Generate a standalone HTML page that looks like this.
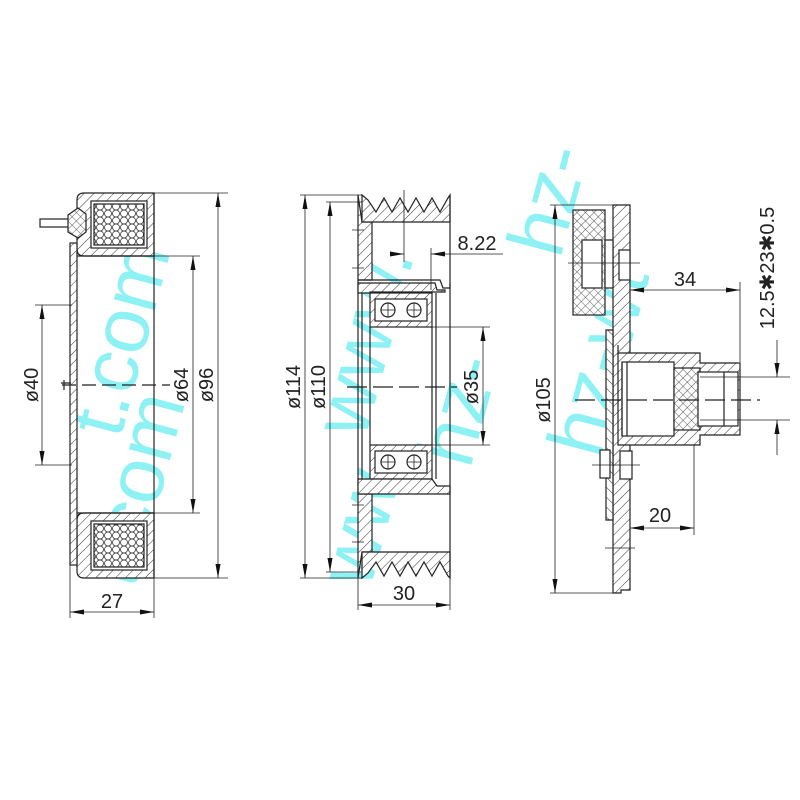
<!DOCTYPE html>
<html><head><meta charset="utf-8"><style>
html,body{margin:0;padding:0;background:#fff}
svg{display:block}
text{font-family:"Liberation Sans",sans-serif;fill:#222}
</style></head><body>
<svg width="800" height="800" viewBox="0 0 800 800" xmlns="http://www.w3.org/2000/svg">
<defs>
<pattern id="h" width="7" height="7" patternUnits="userSpaceOnUse" patternTransform="rotate(45)">
<rect width="7" height="7" fill="#fff"/><line x1="0" y1="0" x2="0" y2="7" stroke="#333" stroke-width="1"/></pattern>
<pattern id="h2" width="7" height="7" patternUnits="userSpaceOnUse" patternTransform="rotate(-45)">
<rect width="7" height="7" fill="#fff"/><line x1="0" y1="0" x2="0" y2="7" stroke="#333" stroke-width="1"/></pattern>
<pattern id="hex" width="8" height="7" patternUnits="userSpaceOnUse">
<rect width="8" height="7" fill="#fff"/><circle cx="4" cy="3.5" r="3.5" fill="none" stroke="#333" stroke-width="0.8"/></pattern>
<pattern id="x" width="6" height="6" patternUnits="userSpaceOnUse" patternTransform="rotate(45)">
<rect width="6" height="6" fill="#fff"/><path d="M0 0V6M0 0H6" stroke="#333" stroke-width="0.8"/></pattern>
<marker id="a" viewBox="0 0 10 10" refX="10" refY="5" markerWidth="14" markerHeight="14" markerUnits="userSpaceOnUse" orient="auto-start-reverse"><path d="M0 3.2L10 5L0 6.8z" fill="#111"/></marker>
</defs>

<!-- watermark -->
<g font-family="Liberation Sans" font-size="80">
<text transform="translate(120,440) rotate(-75)" style="fill:#8ef1f3">t.com</text>
<text transform="translate(135,590) rotate(-75)" style="fill:#8ef1f3">t.com</text>
<text transform="translate(365,440) rotate(-75)" style="fill:#8ef1f3">www.</text>
<text transform="translate(370,590) rotate(-75)" style="fill:#8ef1f3">ww</text>
<text transform="translate(560,260) rotate(-75)" style="fill:#8ef1f3">hz-</text>
<text transform="translate(600,460) rotate(-75)" style="fill:#8ef1f3">hz-wt</text>
<text transform="translate(470,470) rotate(-75)" style="fill:#8ef1f3">hz-</text>
</g>

<g stroke="#222" stroke-width="1.2" fill="none">
<!-- PART 1 -->
<path d="M84 193H154V256H84Q77 256 77 249V200Q77 193 84 193Z" fill="url(#h)"/>
<rect x="91" y="201" width="56" height="47" fill="#fff"/>
<rect x="94" y="204" width="50" height="41" fill="url(#hex)"/>
<path d="M84 578H154V513H84Q77 513 77 520V571Q77 578 84 578Z" fill="url(#h)"/>
<rect x="91" y="521" width="56" height="49" fill="#fff"/>
<rect x="94" y="524" width="50" height="43" fill="url(#hex)"/>
<rect x="70" y="243" width="7" height="322" fill="url(#h)"/>
<line x1="77" y1="256" x2="154" y2="256"/><line x1="77" y1="513" x2="154" y2="513"/>
<line x1="154" y1="193" x2="154" y2="578"/>
<rect x="40" y="219" width="30" height="8" fill="#fff"/>
<path d="M68 215L78 208L86 214V232L78 238L68 232Z" fill="url(#x)"/>
<path d="M62 385H170" stroke-dasharray="14 6"/>
<path d="M64 380V390M61 383h10" />
<!-- dims part1 -->
<line x1="35" y1="305" x2="72" y2="305" stroke-width="0.8"/><line x1="35" y1="465" x2="72" y2="465" stroke-width="0.8"/>
<line x1="42" y1="305" x2="42" y2="465" marker-start="url(#a)" marker-end="url(#a)" stroke-width="0.8"/>
<line x1="154" y1="256" x2="200" y2="256" stroke-width="0.8"/><line x1="154" y1="513" x2="200" y2="513" stroke-width="0.8"/>
<line x1="193" y1="256" x2="193" y2="513" marker-start="url(#a)" marker-end="url(#a)" stroke-width="0.8"/>
<line x1="154" y1="193" x2="228" y2="193" stroke-width="0.8"/><line x1="154" y1="578" x2="228" y2="578" stroke-width="0.8"/>
<line x1="218" y1="193" x2="218" y2="578" marker-start="url(#a)" marker-end="url(#a)" stroke-width="0.8"/>
<line x1="70" y1="565" x2="70" y2="618" stroke-width="0.8"/><line x1="154" y1="578" x2="154" y2="618" stroke-width="0.8"/>
<line x1="70" y1="612" x2="154" y2="612" marker-start="url(#a)" marker-end="url(#a)" stroke-width="0.8"/>

<!-- PART 2 -->
<path d="M358 195L362 222H372V280H358Z" fill="url(#h)"/>
<path d="M362 195L368 200L376 212L384 198L392 212L400 198L408 212L416 198L424 212L432 198L440 212L448 198L450 195V222H362Z" fill="url(#h)"/>
<path d="M358 578L362 552H372V494H358Z" fill="url(#h)"/>
<path d="M362 578L368 573L376 562L384 576L392 562L400 576L408 562L416 576L424 562L432 576L440 562L448 576L450 578V552H362Z" fill="url(#h)"/>
<path d="M358 280V494" />
<path d="M358 280H440L443 288H450V283" fill="none"/>
<path d="M358 283H435L437 290H445V292H370V293H358Z" fill="url(#h)"/>
<rect x="370" y="293" width="62" height="34" fill="url(#h)"/>
<rect x="375" y="299" width="52" height="22" fill="#fff"/>
<circle cx="388" cy="310" r="7" fill="#fff"/><circle cx="414" cy="310" r="7" fill="#fff"/>
<path d="M381 310h14M388 303v14M407 310h14M414 303v14" stroke-width="0.8"/>
<rect x="370" y="445" width="62" height="34" fill="url(#h)"/>
<rect x="375" y="451" width="52" height="22" fill="#fff"/>
<circle cx="388" cy="462" r="7" fill="#fff"/><circle cx="414" cy="462" r="7" fill="#fff"/>
<path d="M381 462h14M388 455v14M407 462h14M414 455v14" stroke-width="0.8"/>
<path d="M358 479H432L437 486H450V494H358Z" fill="url(#h)"/>
<line x1="370" y1="327" x2="370" y2="445"/><line x1="432" y1="327" x2="432" y2="445"/>
<line x1="362" y1="293" x2="362" y2="479"/><line x1="436" y1="293" x2="436" y2="479"/>
<line x1="450" y1="195" x2="450" y2="578"/>
<path d="M347 387H457" stroke-dasharray="20 6"/>
<path d="M352 230h12M352 268h12M352 505h12M352 542h12" stroke-width="0.8"/>
<!-- dims part2 -->
<line x1="300" y1="195" x2="362" y2="195" stroke-width="0.8"/><line x1="300" y1="578" x2="362" y2="578" stroke-width="0.8"/>
<line x1="305" y1="195" x2="305" y2="578" marker-start="url(#a)" marker-end="url(#a)" stroke-width="0.8"/>
<line x1="326" y1="202" x2="362" y2="202" stroke-width="0.8"/><line x1="326" y1="572" x2="362" y2="572" stroke-width="0.8"/>
<line x1="330" y1="202" x2="330" y2="572" marker-start="url(#a)" marker-end="url(#a)" stroke-width="0.8"/>
<line x1="432" y1="327" x2="490" y2="327" stroke-width="0.8"/><line x1="432" y1="445" x2="490" y2="445" stroke-width="0.8"/>
<line x1="483" y1="327" x2="483" y2="445" marker-start="url(#a)" marker-end="url(#a)" stroke-width="0.8"/>
<line x1="404" y1="190" x2="404" y2="262" stroke-width="0.8"/><line x1="431" y1="248" x2="431" y2="290" stroke-width="0.8"/>
<line x1="390" y1="254" x2="404" y2="254" marker-end="url(#a)" stroke-width="0.8"/>
<line x1="503" y1="254" x2="431" y2="254" marker-end="url(#a)" stroke-width="0.8"/>
<line x1="358" y1="578" x2="358" y2="610" stroke-width="0.8"/><line x1="450" y1="578" x2="450" y2="610" stroke-width="0.8"/>
<line x1="358" y1="605" x2="450" y2="605" marker-start="url(#a)" marker-end="url(#a)" stroke-width="0.8"/>

<!-- PART 3 -->
<path d="M613 205H630V590H621V593H613Z" fill="url(#h)"/>
<path d="M606 330H613V520H606Z" fill="url(#h2)"/>
<path d="M618 345V353H700L700 363H740V435H700V445H618Z" fill="url(#h)"/>
<rect x="622" y="362" width="52" height="74" fill="#fff"/>
<rect x="674" y="368" width="26" height="62" fill="url(#x)"/>
<rect x="698" y="372" width="40" height="54" fill="#fff"/>
<line x1="724" y1="372" x2="724" y2="426"/>
<line x1="622" y1="362" x2="622" y2="436"/><line x1="627" y1="362" x2="627" y2="436"/>
<rect x="573" y="210" width="32" height="105" fill="url(#x)"/>
<rect x="582" y="240" width="20" height="48" fill="#fff"/>
<rect x="605" y="240" width="8" height="48" fill="#fff"/>
<rect x="619" y="250" width="11" height="30" fill="#fff"/>
<path d="M568 263H640" stroke-width="0.8"/>
<rect x="600" y="450" width="10" height="28" fill="#fff"/>
<rect x="620" y="451" width="12" height="28" fill="#fff"/>
<path d="M592 465H640M605 548H635" stroke-width="0.8"/>
<path d="M575 400H760" stroke-dasharray="20 6"/>
<!-- dims part3 -->
<line x1="550" y1="205" x2="613" y2="205" stroke-width="0.8"/><line x1="550" y1="593" x2="613" y2="593" stroke-width="0.8"/>
<line x1="555" y1="205" x2="555" y2="593" marker-start="url(#a)" marker-end="url(#a)" stroke-width="0.8"/>
<line x1="740" y1="282" x2="740" y2="362" stroke-width="0.8"/>
<line x1="630" y1="290" x2="740" y2="290" marker-start="url(#a)" marker-end="url(#a)" stroke-width="0.8"/>
<line x1="694" y1="445" x2="694" y2="535" stroke-width="0.8"/>
<line x1="630" y1="528" x2="694" y2="528" marker-start="url(#a)" marker-end="url(#a)" stroke-width="0.8"/>
<line x1="700" y1="377" x2="790" y2="377" stroke-width="0.8"/><line x1="700" y1="420" x2="790" y2="420" stroke-width="0.8"/>
<line x1="777" y1="340" x2="777" y2="377" marker-end="url(#a)" stroke-width="0.8"/>
<line x1="777" y1="455" x2="777" y2="420" marker-end="url(#a)" stroke-width="0.8"/>
</g>

<!-- labels -->
<g font-size="20">
<text transform="translate(38,385) rotate(-90)" text-anchor="middle">ø40</text>
<text transform="translate(188,385) rotate(-90)" text-anchor="middle">ø64</text>
<text transform="translate(213,385) rotate(-90)" text-anchor="middle">ø96</text>
<text x="112" y="608" text-anchor="middle">27</text>
<text transform="translate(300,387) rotate(-90)" text-anchor="middle">ø114</text>
<text transform="translate(325,387) rotate(-90)" text-anchor="middle">ø110</text>
<text transform="translate(478,387) rotate(-90)" text-anchor="middle">ø35</text>
<text x="477" y="250" text-anchor="middle">8.22</text>
<text x="404" y="600" text-anchor="middle">30</text>
<text transform="translate(550,400) rotate(-90)" text-anchor="middle">ø105</text>
<text x="685" y="286" text-anchor="middle">34</text>
<text x="660" y="522" text-anchor="middle">20</text>
<text transform="translate(774,268) rotate(-90)" text-anchor="middle">12.5✱23✱0.5</text>
</g>
</svg>
</body></html>
